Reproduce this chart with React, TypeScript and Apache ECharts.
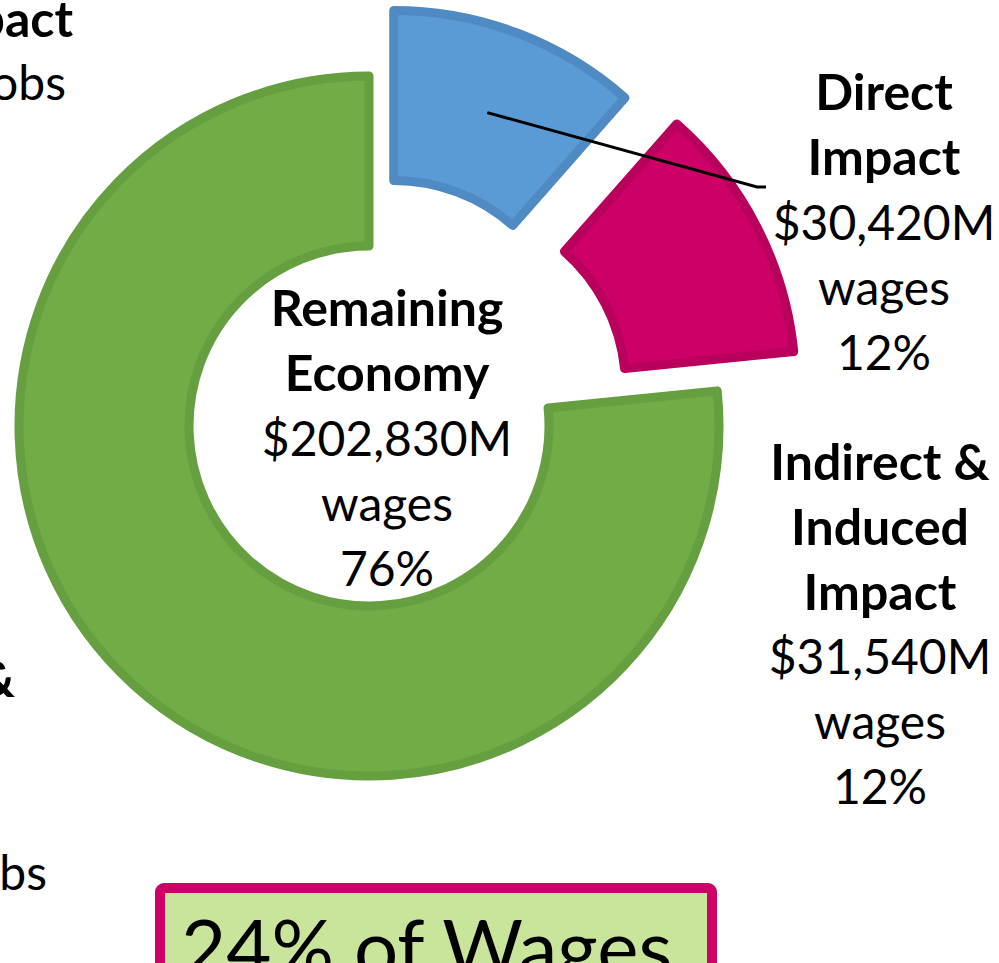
import React, { useEffect, useRef } from 'react';
import * as echarts from 'echarts';

// ---- data ----
const categories = ['Direct Impact', 'Indirect & Induced Impact', 'Remaining Economy'];
const categoryLines = [['Direct', 'Impact'], ['Indirect &', 'Induced', 'Impact'], ['Remaining', 'Economy']];
const wagesMillions = [30420, 31540, 202830];
const shareLabels = ['12%', '12%', '76%'];
const unitLabel = 'wages';
const summaryText = '24% of Wages';
// cut-off labels of the neighbouring chart visible at the left edge
const sideFragments = ['pact', 'obs', '&', 'bs'];
const sideFragmentBold = [true, false, true, false];

// ---- styles / layout ----
const FILL = ['#5B9BD5', '#CC0066', '#71AC47'];
const STROKE = ['#4F8AC2', '#B9005D', '#659F3F'];
const OFFSET = [70, 86, 0];
const CX = 369;
const CY = 426;
const R_IN = 180;
const R_OUT = 350;
const BORDER = 9;
const FONT = 'Lato, "Open Sans", sans-serif';
const LABEL_POS = [[884, 221], [880, 623], [387, 437]];
const FRAG_POS = [[73, 18], [66, 81], [15, 678], [47, 871]];

function makeSeries(visible: number[], offset: number) {
  return {
    type: 'pie',
    center: [CX, CY],
    radius: [R_IN, R_OUT],
    startAngle: 90,
    clockwise: true,
    selectedMode: 'multiple',
    selectedOffset: offset,
    silent: true,
    avoidLabelOverlap: false,
    label: { show: false },
    labelLine: { show: false },
    emphasis: { disabled: true },
    data: categories.map((name, i) => {
      const on = visible.includes(i);
      const style = on
        ? { color: FILL[i], borderColor: STROKE[i], borderWidth: BORDER }
        : { color: 'rgba(0,0,0,0)', borderColor: 'rgba(0,0,0,0)', borderWidth: 0 };
      return {
        name,
        value: wagesMillions[i],
        selected: on && OFFSET[i] > 0,
        itemStyle: style,
        select: { itemStyle: style },
      };
    }),
  };
}

function blockText(i: number) {
  const lines = [
    ...categoryLines[i].map((l) => `{b|${l}}`),
    `{r|$${wagesMillions[i].toLocaleString('en-US')}M}`,
    `{r|${unitLabel}}`,
    `{r|${shareLabels[i]}}`,
  ];
  return lines.join('\n');
}

export default function App() {
  const ref = useRef<HTMLDivElement>(null);

  useEffect(() => {
    if (!ref.current) return;
    const chart = echarts.init(ref.current, undefined, { renderer: 'svg' });

    const total = wagesMillions.reduce((a, b) => a + b, 0);
    const midAngle = ((wagesMillions[0] / total) * 2 * Math.PI) / 2;
    const dx = Math.sin(midAngle);
    const dy = -Math.cos(midAngle);
    const rMid = (R_IN + R_OUT) / 2 + OFFSET[0];
    const lineStart = [CX + dx * rMid, CY + dy * rMid];

    const rich = {
      b: { fontFamily: FONT, fontWeight: 'bold', fontSize: 50, lineHeight: 65, fill: '#000' },
      r: { fontFamily: FONT, fontWeight: 'normal', fontSize: 48, lineHeight: 65, fill: '#000' },
    };

    const graphics: any[] = [
      {
        type: 'polyline',
        z: 10,
        shape: { points: [lineStart, [757, 187], [766, 187]] },
        style: { stroke: '#000', lineWidth: 3, fill: 'none' },
        silent: true,
      },
      ...LABEL_POS.map((p, i) => ({
        type: 'text',
        x: p[0],
        y: p[1],
        z: 20,
        style: {
          text: blockText(i),
          rich,
          align: 'center',
          verticalAlign: 'middle',
          textAlign: 'center',
          textVerticalAlign: 'middle',
        },
        silent: true,
      })),
      ...sideFragments.map((t, i) => ({
        type: 'text',
        x: FRAG_POS[i][0],
        y: FRAG_POS[i][1],
        z: 20,
        style: {
          text: t,
          fontFamily: FONT,
          fontSize: sideFragmentBold[i] ? 50 : 48,
          fontWeight: sideFragmentBold[i] ? 'bold' : 'normal',
          fill: '#000',
          align: 'right',
          verticalAlign: 'middle',
          textAlign: 'right',
          textVerticalAlign: 'middle',
        },
        silent: true,
      })),
      {
        type: 'rect',
        z: 5,
        shape: { x: 160, y: 888, width: 552, height: 200, r: 4 },
        style: { fill: '#C9E49B', stroke: '#CC0066', lineWidth: 10 },
        silent: true,
      },
      {
        type: 'text',
        x: 181,
        y: 946,
        z: 6,
        style: {
          text: summaryText,
          fontFamily: FONT,
          fontSize: 78,
          fill: '#000',
          align: 'left',
          verticalAlign: 'middle',
          textAlign: 'left',
          textVerticalAlign: 'middle',
        },
        silent: true,
      },
    ];

    chart.setOption({
      animation: false,
      backgroundColor: '#ffffff',
      series: [makeSeries([0, 2], OFFSET[0]), makeSeries([1], OFFSET[1])],
      graphic: graphics,
    });

    return () => chart.dispose();
  }, []);

  return (
    <div
      ref={ref}
      style={{ position: 'absolute', left: 0, top: 0, width: 999, height: 963 }}
    />
  );
}
